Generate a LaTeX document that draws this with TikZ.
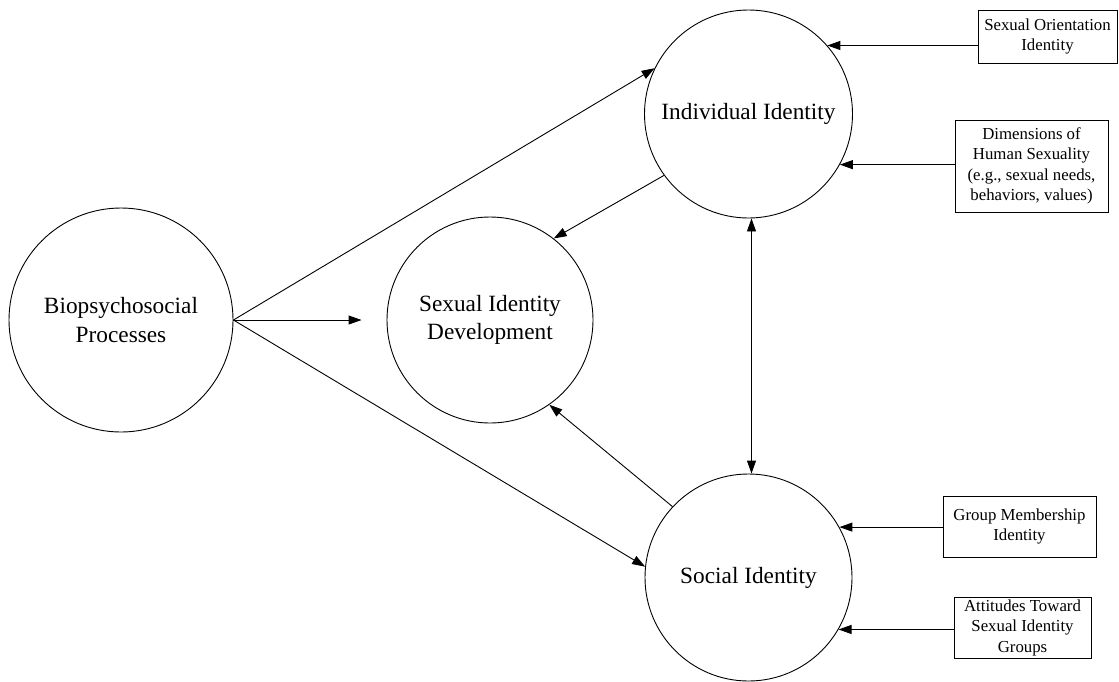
\documentclass[tikz,border=0pt]{standalone}
\usepackage{fontspec}
\setmainfont{Liberation Serif}
\usetikzlibrary{arrows.meta,calc}
\begin{document}
\begin{tikzpicture}[x=1pt,y=-1pt,
  bigcirc/.style={circle,draw=black,line width=0.9pt,inner sep=0pt,align=center,
    font=\fontsize{23.3pt}{28.5pt}\selectfont},
  sidebox/.style={rectangle,draw=black,line width=0.9pt,inner sep=0pt,align=center,
    font=\fontsize{16.8pt}{20.5pt}\selectfont},
  arr/.style={line width=0.9pt,-{Triangle[length=13pt,width=9pt]}},
  arrb/.style={line width=0.9pt,{Triangle[length=13pt,width=9pt]}-{Triangle[length=13pt,width=9pt]}}]
\useasboundingbox (0,0) rectangle (1119,681);
\node[bigcirc,minimum size=224pt] (bio) at (121,320) {Biopsychosocial\\Processes};
\node[bigcirc,minimum size=206pt] (sid) at (490,320) {Sexual Identity\\Development};
\node[bigcirc,minimum size=208pt] (ind) at (748.5,114) {Individual Identity};
\node[bigcirc,minimum size=207pt] (soc) at (748.5,577.5) {Social Identity};
\node[sidebox,minimum width=139pt,minimum height=53pt] (so) at (1047.5,36.5) {Sexual Orientation\\Identity};
\node[sidebox,minimum width=153pt,minimum height=92pt] (dim) at (1031.5,166) {Dimensions of\\Human Sexuality\\(e.g., sexual needs,\\behaviors, values)};
\node[sidebox,minimum width=153pt,minimum height=61pt] (gm) at (1019.5,526.5) {Group Membership\\Identity};
\node[sidebox,minimum width=137pt,minimum height=61pt] (att) at (1022.5,627.5) {Attitudes Toward\\Sexual Identity\\Groups};
% from biopsychosocial
\draw[arr] (bio.east) -- (ind.154.6);
\draw[arr] (bio.east) -- ([xshift=-25pt]sid.west);
\draw[arr] (bio.east) -- (soc.174.8);
% to sexual identity development
\draw[arr] (ind.216) -- (sid.52);
\draw[arr] (soc.137.7) -- (sid.-55.4);
% between individual and social
\draw[arrb] ([xshift=3pt]ind.south) -- ([xshift=3pt]soc.north);
% side boxes
\draw[arr] (ind.41.6 -| so.west) -- (ind.41.6);
\draw[arr] (ind.-29.4 -| dim.west) -- (ind.-29.4);
\draw[arr] (soc.29.2 -| gm.west) -- (soc.29.2);
\draw[arr] (soc.-30.5 -| att.west) -- (soc.-30.5);
\end{tikzpicture}
\end{document}
